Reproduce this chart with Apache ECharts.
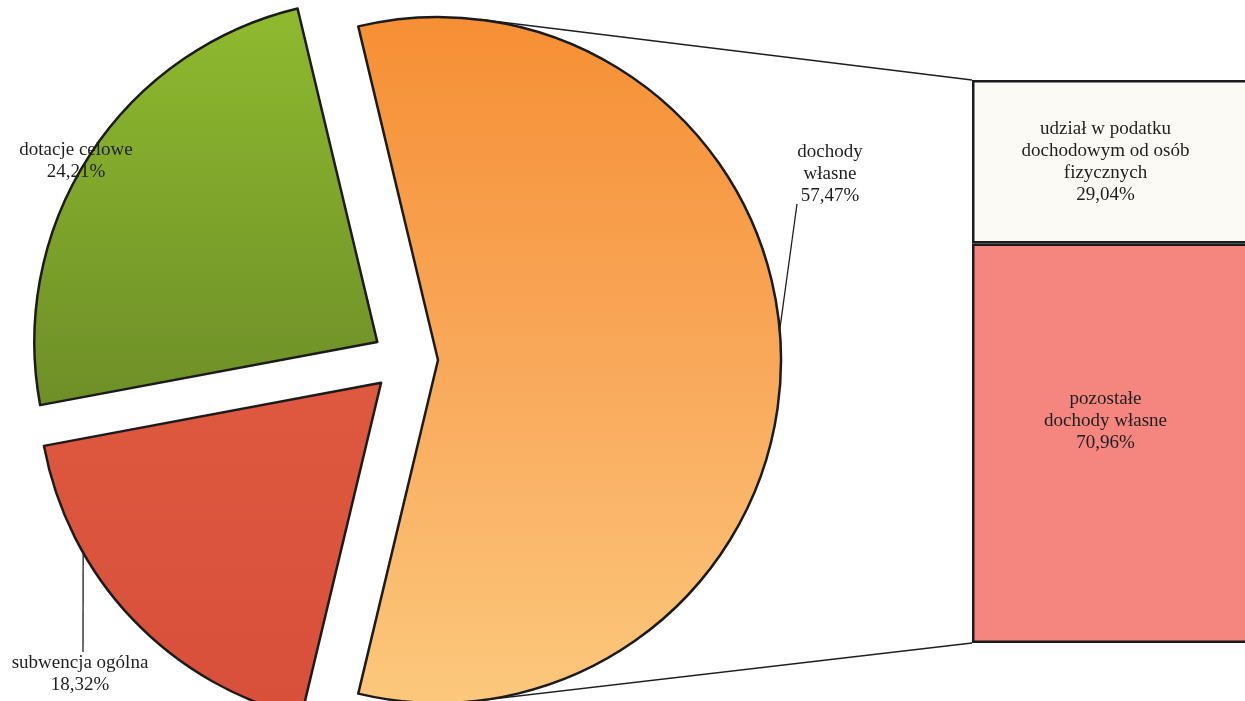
<!DOCTYPE html>
<html><head><meta charset="utf-8">
<script src="https://cdn.jsdelivr.net/npm/echarts@6/dist/echarts.min.js"></script>
<style>html,body{margin:0;padding:0;background:#fff}#c{width:1245px;height:701px}</style>
</head><body><div id="c"></div>
<script>
// ---- data ----
const pieNames = ['dochody własne', 'subwencja ogólna', 'dotacje celowe'];
const pieLabels = ['dochody\nwłasne', 'subwencja ogólna', 'dotacje celowe'];
const pieValues = [57.47, 18.32, 24.21];
const barNames = ['pozostałe dochody własne', 'udział w podatku dochodowym od osób fizycznych'];
const barLabels = ['pozostałe\ndochody własne', 'udział w podatku\ndochodowym od osób\nfizycznych'];
const barValues = [70.96, 29.04];

// ---- layout / style ----
const W = 1245, H = 701;
const PC = [405, 360], PR = 343, OFF = 33;
const GRID = {left: 972, top: 80, right: -30, bottom: 58};
const FONT = 'Liberation Serif';
const FS = 19, LH = 22;
const fmt = v => v.toFixed(2).replace('.', ',') + '%';
const total = pieValues.reduce((a, b) => a + b, 0);
const startAngle = pieValues[0] / total * 360 / 2;   // centre the first slice on the right

const pieColors = [
  new echarts.graphic.LinearGradient(0, 0, 0, 1, [{offset: 0, color: '#F68F34'}, {offset: 0.5, color: '#F9A85A'}, {offset: 1, color: '#FCC87C'}]),
  new echarts.graphic.LinearGradient(0, 0, 0, 1, [{offset: 0, color: '#DE5940'}, {offset: 1, color: '#D84F3A'}]),
  new echarts.graphic.LinearGradient(0, 0, 0, 1, [{offset: 0, color: '#8FBA2F'}, {offset: 1, color: '#6E8F27'}])
];
const labelPos = [[830, 174], [80, 674], [76, 161]];
const leaderAngle = [5, -150.3, null];          // where the leader leaves the arc (deg)
const leaderEnd = [[797, 204], [83, 652], null];
const barColors = ['#F4857F', '#FBFAF5'];
const barLabelShift = [[-18, -22], [-18, 0]];

// mid angle of each slice (degrees, counter-clockwise from 3 o'clock)
const mids = [];
{
  let a = startAngle;
  pieValues.forEach(v => { const s = v / total * 360; mids.push(a - s / 2); a -= s; });
}
const sliceCenter = i => [PC[0] + OFF * Math.cos(mids[i] * Math.PI / 180), PC[1] - OFF * Math.sin(mids[i] * Math.PI / 180)];

const pieSeries = pieNames.map((_, k) => ({
  type: 'pie',
  name: pieNames[k],
  center: sliceCenter(k),
  radius: PR,
  startAngle: startAngle,
  clockwise: true,
  silent: true,
  emphasis: {disabled: true},
  labelLine: {show: false},
  label: {
    show: true, position: 'outside', overflow: 'none',
    fontFamily: FONT, fontSize: FS, color: '#1e1e1e', lineHeight: LH,
    formatter: p => pieLabels[p.dataIndex] + '\n' + fmt(p.value)
  },
  labelLayout: p => p.dataIndex === k
    ? {x: labelPos[k][0], y: labelPos[k][1], align: 'center', verticalAlign: 'middle'}
    : {},
  data: pieNames.map((n, i) => i === k
    ? {name: n, value: pieValues[i], itemStyle: {color: pieColors[i], borderColor: '#1b1b1b', borderWidth: 2.5}}
    : {name: n, value: pieValues[i], itemStyle: {color: 'rgba(0,0,0,0)', borderWidth: 0}, label: {show: false}})
}));

const chart = echarts.init(document.getElementById('c'), null, {renderer: 'canvas'});
chart.setOption({
  animation: false,
  backgroundColor: '#fff',
  textStyle: {fontFamily: FONT},
  grid: {left: GRID.left, top: GRID.top, right: GRID.right, bottom: GRID.bottom, outerBoundsMode: 'none', containLabel: false},
  xAxis: {type: 'category', data: ['dochody własne'], show: false},
  yAxis: {type: 'value', min: 0, max: 100, show: false},
  series: [
    ...pieSeries,
    ...barNames.map((n, i) => ({
      type: 'bar',
      name: n,
      stack: 'own',
      barWidth: '100%',
      z: 3,
      silent: true,
      data: [barValues[i]],
      itemStyle: {color: barColors[i], borderColor: '#1b1b1b', borderWidth: 2.5},
      emphasis: {disabled: true},
      label: {
        show: true, position: 'inside', offset: barLabelShift[i],
        fontFamily: FONT, fontSize: FS, color: '#1e1e1e', lineHeight: LH, align: 'center',
        formatter: p => barLabels[i] + '\n' + fmt(p.value)
      }
    }))
  ]
});

// connector lines from the exploded "dochody własne" slice to the bar (tangents)
const oc = sliceCenter(0);
function tangent(px, py, sign) {
  const dx = px - oc[0], dy = py - oc[1], d = Math.hypot(dx, dy);
  const t = Math.atan2(dy, dx) + sign * Math.acos(PR / d);
  return [oc[0] + PR * Math.cos(t), oc[1] + PR * Math.sin(t)];
}
const topP = [GRID.left, GRID.top], botP = [GRID.left, H - GRID.bottom];
const t1 = tangent(topP[0], topP[1], -1), t2 = tangent(botP[0], botP[1], 1);
const lineStyle = {stroke: '#1e1e1e', lineWidth: 1.5};
const elements = [
  {type: 'line', z: 1, shape: {x1: t1[0], y1: t1[1], x2: topP[0], y2: topP[1]}, style: lineStyle},
  {type: 'line', z: 1, shape: {x1: t2[0], y1: t2[1], x2: botP[0], y2: botP[1]}, style: lineStyle}
];
leaderAngle.forEach((a, i) => {
  if (a == null) return;
  const c = sliceCenter(i), r = a * Math.PI / 180;
  elements.push({type: 'line', z: 5, shape: {x1: c[0] + PR * Math.cos(r), y1: c[1] - PR * Math.sin(r), x2: leaderEnd[i][0], y2: leaderEnd[i][1]}, style: {stroke: '#1e1e1e', lineWidth: 1.3}});
});
chart.setOption({graphic: {elements}});
</script></body></html>
